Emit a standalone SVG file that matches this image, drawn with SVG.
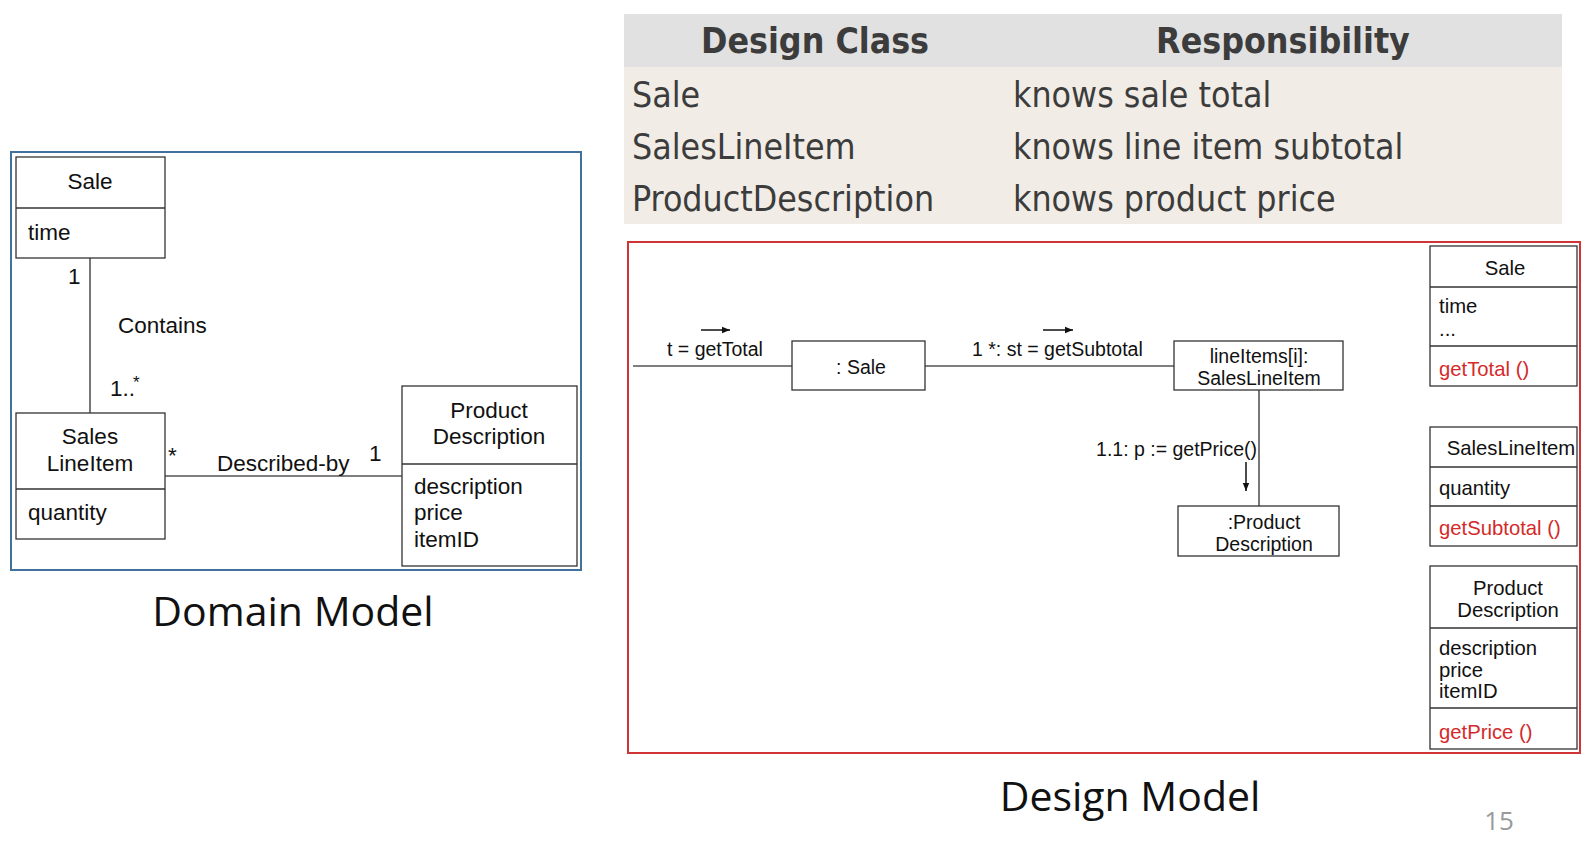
<svg xmlns="http://www.w3.org/2000/svg" width="1593" height="846" viewBox="0 0 1593 846">
<defs>
<style>
.box{fill:#fff;stroke:#333;stroke-width:1.3}
.ln{stroke:#555;stroke-width:1.6;fill:none}
.t{font-family:"Liberation Sans",Arial,sans-serif;fill:#111}
.dm{font-size:22.5px}
.cd{font-size:19.5px}
.cb{font-size:20.3px}
.red{fill:#d42a2a}
.tb{font-family:"DejaVu Sans Condensed","DejaVu Sans",sans-serif;font-stretch:condensed;fill:#3c3c3c;font-size:35.4px}
.cap{font-family:"Open Sans","Noto Sans",sans-serif;fill:#111;font-size:41px}
</style>
<marker id="ah" viewBox="0 0 10 10" refX="10" refY="5" markerWidth="8" markerHeight="8" markerUnits="userSpaceOnUse" orient="auto">
<path d="M0,1 L10,5 L0,9 z" fill="#111"/>
</marker>
</defs>
<rect width="1593" height="846" fill="#fff"/>

<!-- Domain model frame -->
<rect x="11" y="152" width="570" height="418" fill="none" stroke="#41719c" stroke-width="2"/>

<g id="connectors">
<line class="ln" x1="90" y1="258" x2="90" y2="413"/>
<line class="ln" x1="165" y1="476" x2="402" y2="476"/>
<line class="ln" x1="633" y1="366" x2="792" y2="366"/>
<line class="ln" x1="925" y1="366" x2="1174" y2="366"/>
<line class="ln" x1="1259" y1="390" x2="1259" y2="506"/>
<line x1="701" y1="330" x2="730" y2="330" stroke="#111" stroke-width="1.5" marker-end="url(#ah)"/>
<line x1="1043" y1="330" x2="1073" y2="330" stroke="#111" stroke-width="1.5" marker-end="url(#ah)"/>
<line x1="1246" y1="462" x2="1246" y2="491" stroke="#111" stroke-width="1.5" marker-end="url(#ah)"/>
<g class="t dm">
<text x="68" y="284">1</text>
<text x="118" y="333">Contains</text>
<text x="110" y="396">1..</text><text x="133" y="388" font-size="17">*</text>
<text x="168" y="463">*</text>
<text x="217" y="471">Described-by</text>
<text x="369" y="461">1</text>
</g>
<g class="t cd">
<text x="667" y="356">t = getTotal</text>
<text x="972" y="356">1 *: st = getSubtotal</text>
<text x="1257" y="456" text-anchor="end">1.1: p := getPrice()</text>
</g>
</g>

<!-- Domain nodes -->
<g id="dm-sale">
<rect class="box" x="16" y="157" width="149" height="101"/>
<line class="box" x1="16" y1="208" x2="165" y2="208"/>
<text class="t dm" x="90" y="189" text-anchor="middle">Sale</text>
<text class="t dm" x="28" y="240">time</text>
</g>
<g id="dm-saleslineitem">
<rect class="box" x="16" y="413" width="149" height="126"/>
<line class="box" x1="16" y1="489" x2="165" y2="489"/>
<text class="t dm" x="90" y="444" text-anchor="middle">Sales</text>
<text class="t dm" x="90" y="471" text-anchor="middle">LineItem</text>
<text class="t dm" x="28" y="520">quantity</text>
</g>
<g id="dm-productdescription">
<rect class="box" x="402" y="386" width="175" height="180"/>
<line class="box" x1="402" y1="464" x2="577" y2="464"/>
<text class="t dm" x="489" y="418" text-anchor="middle">Product</text>
<text class="t dm" x="489" y="444" text-anchor="middle">Description</text>
<text class="t dm" x="414" y="494">description</text>
<text class="t dm" x="414" y="520">price</text>
<text class="t dm" x="414" y="547">itemID</text>
</g>
<text class="cap" x="293" y="626" text-anchor="middle">Domain Model</text>

<!-- Table -->
<g id="table">
<rect x="624" y="14" width="938" height="53" fill="#e1e1e1"/>
<rect x="624" y="67" width="938" height="157" fill="#f1ede6"/>
<text class="tb" x="815" y="53" text-anchor="middle" font-weight="bold">Design Class</text>
<text class="tb" x="1283" y="53" text-anchor="middle" font-weight="bold">Responsibility</text>
<text class="tb" x="632" y="107">Sale</text>
<text class="tb" x="1013" y="107">knows sale total</text>
<text class="tb" x="632" y="159">SalesLineItem</text>
<text class="tb" x="1013" y="159">knows line item subtotal</text>
<text class="tb" x="632" y="211">ProductDescription</text>
<text class="tb" x="1013" y="211">knows product price</text>
</g>

<!-- Design model frame -->
<rect x="628" y="242" width="952" height="511" fill="none" stroke="#d03434" stroke-width="2"/>

<g id="obj-sale">
<rect class="box" x="792" y="341" width="133" height="49"/>
<text class="t cd" x="861" y="374" text-anchor="middle">: Sale</text>
</g>
<g id="obj-lineitem">
<rect class="box" x="1174" y="341" width="169" height="49"/>
<text class="t cd" x="1259" y="363" text-anchor="middle">lineItems[i]:</text>
<text class="t cd" x="1259" y="385" text-anchor="middle">SalesLineItem</text>
</g>
<g id="obj-product">
<rect class="box" x="1178" y="506" width="161" height="50"/>
<text class="t cd" x="1264" y="529" text-anchor="middle">:Product</text>
<text class="t cd" x="1264" y="551" text-anchor="middle">Description</text>
</g>

<g id="dc-sale">
<rect class="box" x="1430" y="246" width="147" height="140"/>
<line class="box" x1="1430" y1="287" x2="1577" y2="287"/>
<line class="box" x1="1430" y1="346" x2="1577" y2="346"/>
<text class="t cb" x="1505" y="275" text-anchor="middle">Sale</text>
<text class="t cb" x="1439" y="313">time</text>
<text class="t cb" x="1439" y="336" font-size="14">...</text>
<text class="t cb red" x="1439" y="376">getTotal ()</text>
</g>
<g id="dc-saleslineitem">
<rect class="box" x="1430" y="427" width="147" height="119"/>
<line class="box" x1="1430" y1="467" x2="1577" y2="467"/>
<line class="box" x1="1430" y1="506" x2="1577" y2="506"/>
<text class="t cb" x="1511" y="455" text-anchor="middle">SalesLineItem</text>
<text class="t cb" x="1439" y="495">quantity</text>
<text class="t cb red" x="1439" y="535">getSubtotal ()</text>
</g>
<g id="dc-productdescription">
<rect class="box" x="1430" y="566" width="147" height="183"/>
<line class="box" x1="1430" y1="628" x2="1577" y2="628"/>
<line class="box" x1="1430" y1="708" x2="1577" y2="708"/>
<text class="t cb" x="1508" y="595" text-anchor="middle">Product</text>
<text class="t cb" x="1508" y="617" text-anchor="middle">Description</text>
<text class="t cb" x="1439" y="655">description</text>
<text class="t cb" x="1439" y="677">price</text>
<text class="t cb" x="1439" y="698">itemID</text>
<text class="t cb red" x="1439" y="739">getPrice ()</text>
</g>

<text class="cap" x="1130" y="811" text-anchor="middle">Design Model</text>
<text x="1499" y="830" font-family="'Open Sans','Noto Sans',sans-serif" font-size="26" fill="#999" text-anchor="middle">15</text>
</svg>
